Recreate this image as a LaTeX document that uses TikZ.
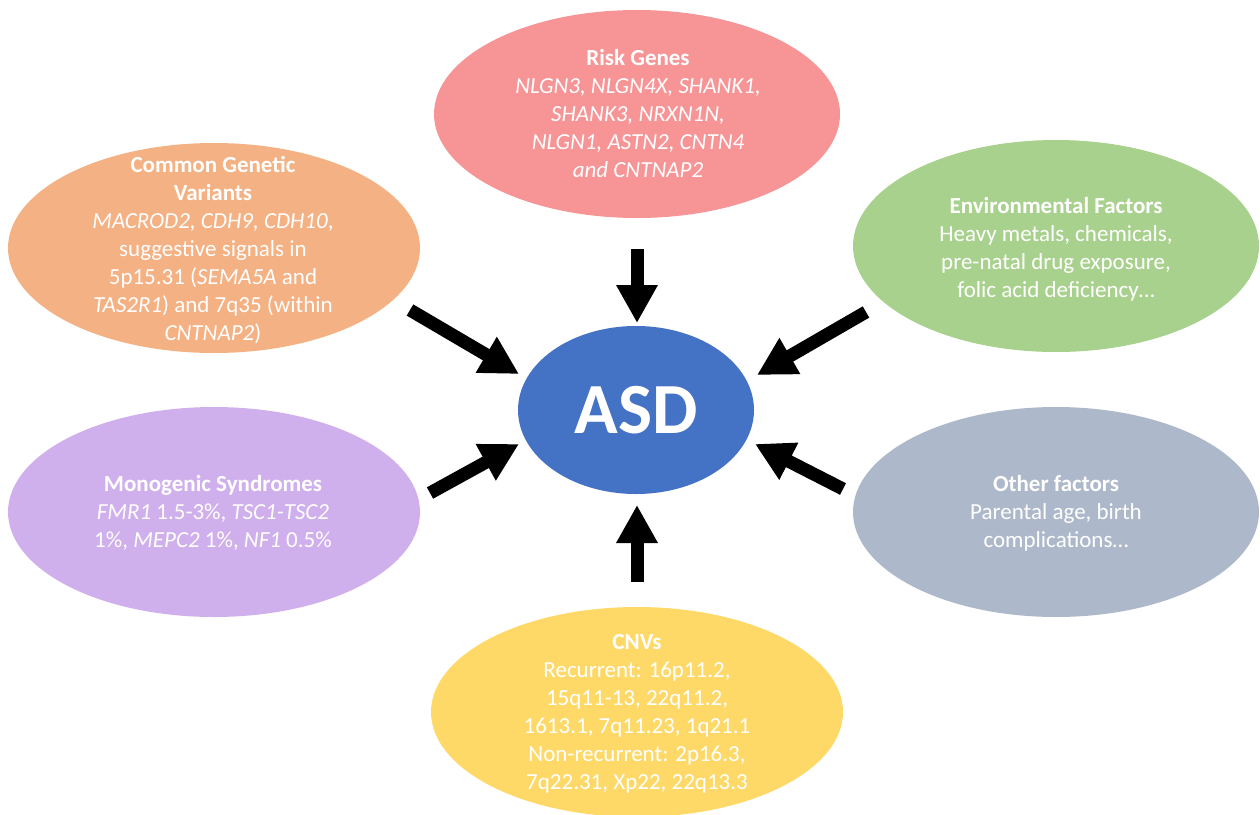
\documentclass[tikz,border=0pt]{standalone}
\usepackage{fontspec}
\setmainfont{Carlito}
\usetikzlibrary{arrows.meta}
\definecolor{cpink}{RGB}{247,148,150}
\definecolor{corange}{RGB}{244,177,131}
\definecolor{cgreen}{RGB}{169,209,142}
\definecolor{cpurple}{RGB}{207,176,236}
\definecolor{cgrey}{RGB}{173,185,202}
\definecolor{cyellow}{RGB}{254,217,104}
\definecolor{cblue}{RGB}{68,114,196}
\tikzset{
  lbl/.style={text=white, align=center, inner sep=0pt, font=\fontsize{23}{28}\selectfont},
  bigarrow/.style={line width=13pt, -{Triangle[length=38pt,width=39pt]}},
}
\begin{document}
\begin{tikzpicture}[x=1pt,y=-1pt]
\useasboundingbox (0,0) rectangle (1260,814);
% ellipses
\fill[cpink]   (637,114) ellipse [x radius=203pt, y radius=104pt];
\fill[corange] (214,248) ellipse [x radius=206pt, y radius=105pt];
\fill[cgreen]  (1056,246) ellipse [x radius=203pt, y radius=106pt];
\fill[cpurple] (214,512) ellipse [x radius=206pt, y radius=105pt];
\fill[cgrey]   (1056,512) ellipse [x radius=203pt, y radius=105pt];
\fill[cyellow] (637,712) ellipse [x radius=206pt, y radius=105pt];
\fill[cblue]   (636,410) ellipse [x radius=118pt, y radius=84pt];
% texts
\node[lbl] (rg) at (638,114) {\textbf{Risk Genes}\\ \textit{NLGN3, NLGN4X, SHANK1,}\\ \textit{SHANK3, NRXN1N,}\\ \textit{NLGN1, ASTN2, CNTN4}\\ \textit{and CNTNAP2}};
\node[lbl] (cg) at (213,250) {\textbf{Common Genetic}\\ \textbf{Variants}\\ \textit{MACROD2, CDH9, CDH10},\\ suggestive signals in\\ 5p15.31 (\textit{SEMA5A} and\\ \textit{TAS2R1}) and 7q35 (within\\ \textit{CNTNAP2})};
\node[lbl] (env) at (1056,249) {\textbf{Environmental Factors}\\ Heavy metals, chemicals,\\ pre-natal drug exposure,\\ folic acid deficiency…};
\node[lbl] (mono) at (213,513) {\textbf{Monogenic Syndromes}\\ \textit{FMR1} 1.5-3\%, \textit{TSC1-TSC2}\\ 1\%, \textit{MEPC2} 1\%, \textit{NF1} 0.5\%};
\node[lbl] (oth) at (1056,513) {\textbf{Other factors}\\ Parental age, birth\\ complications…};
\node[lbl] (cnv) at (637,714) {\textbf{CNVs}\\ Recurrent: 16p11.2,\\ 15q11-13, 22q11.2,\\ 1613.1, 7q11.23, 1q21.1\\ Non-recurrent: 2p16.3,\\ 7q22.31, Xp22, 22q13.3};
\node[text=white, inner sep=0pt, font=\fontsize{72}{86}\selectfont\bfseries] (asd) at (636,410) {ASD};
% arrow coordinates
\coordinate (t1) at (637,249); \coordinate (h1) at (637,323);
\coordinate (t2) at (637,582); \coordinate (h2) at (637,505);
\coordinate (t3) at (410,310); \coordinate (h3) at (519,374);
\coordinate (t4) at (866,312); \coordinate (h4) at (757,375);
\coordinate (t5) at (430,493); \coordinate (h5) at (519,444);
\coordinate (t6) at (843,489); \coordinate (h6) at (755,444);
\draw[bigarrow] (t1) -- (h1);
\draw[bigarrow] (t2) -- (h2);
\draw[bigarrow] (t3) -- (h3);
\draw[bigarrow] (t4) -- (h4);
\draw[bigarrow] (t5) -- (h5);
\draw[bigarrow] (t6) -- (h6);
\end{tikzpicture}
\end{document}
